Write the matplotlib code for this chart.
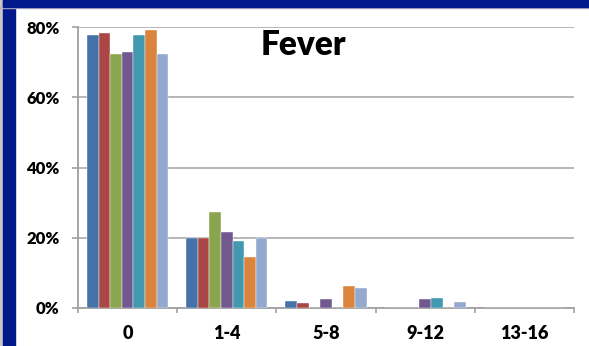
import matplotlib
matplotlib.use("Agg")
import matplotlib.pyplot as plt
import numpy as np
from matplotlib.patches import Rectangle

categories = ["0", "1-4", "5-8", "9-12", "13-16"]
series_colors = ["#4572A7", "#AA4643", "#89A54E", "#71588F", "#4198AF", "#DB843D", "#93A9CF"]
s1 = [77.8, 20.0, 2.0, 0.0, 0.0]
s2 = [78.3, 20.0, 1.5, 0.0, 0.0]
s3 = [72.3, 27.4, 0.0, 0.0, 0.0]
s4 = [72.8, 21.5, 2.7, 2.7, 0.0]
s5 = [77.8, 19.2, 0.0, 2.9, 0.0]
s6 = [79.1, 14.5, 6.3, 0.0, 0.0]
s7 = [72.4, 20.0, 5.8, 1.6, 0.0]
series = [s1, s2, s3, s4, s5, s6, s7]
yticks = [0, 20, 40, 60, 80]
ytick_labels = ["0%", "20%", "40%", "60%", "80%"]
title = "Fever"

plt.rcParams['font.family'] = ['Lato', 'DejaVu Sans']

W, H = 589, 346
fig = plt.figure(figsize=(W / 100, H / 100), dpi=100)
fig.patch.set_facecolor("white")

# frame decorations
fig.patches.append(Rectangle((0, 0), 3 / W, 1, transform=fig.transFigure, color="#C8C8C8", zorder=0))
fig.patches.append(Rectangle((3 / W, 0), 12 / W, 1, transform=fig.transFigure, color="#00188A", zorder=1))
fig.patches.append(Rectangle((0, 1 - 8 / H), 1, 1 / H, transform=fig.transFigure, color="#B8B8C8", zorder=1))
fig.patches.append(Rectangle((3 / W, 1 - 7 / H), 1, 7 / H, transform=fig.transFigure, color="#00188A", zorder=2))

ax = fig.add_axes([78 / W, 1 - 308 / H, (574 - 78) / W, (308 - 27) / H])
ax.set_facecolor("white")

n = len(series)
x = np.arange(len(categories))
group_w = 0.82
bw = group_w / n
for i, (vals, c) in enumerate(zip(series, series_colors)):
    ax.bar(x - group_w / 2 + bw * (i + 0.5), vals, width=bw, color=c,
           edgecolor="white", linewidth=0.3, zorder=3)

ax.set_xlim(-0.5, len(categories) - 0.5)
ax.set_ylim(0, 80)
ax.set_yticks(yticks)
ax.set_yticklabels(ytick_labels, fontsize=12, fontweight="heavy")
ax.yaxis.grid(True, color="#B0B0B0", linewidth=1.3, zorder=0)
ax.set_axisbelow(True)

ax.set_xticks(x)
ax.set_xticklabels(categories, fontsize=13, fontweight="heavy")
ax.tick_params(axis="x", length=0, pad=12)
ax.set_xticks(np.arange(-0.5, len(categories)), minor=True)
ax.tick_params(axis="x", which="minor", length=3.6, color="#A0A0A0", width=1.2)
ax.tick_params(axis="y", length=4.3, color="#A0A0A0", width=1.2, pad=9)

for s in ["top", "right"]:
    ax.spines[s].set_visible(False)
for s in ["left", "bottom"]:
    ax.spines[s].set_color("#A0A0A0")
    ax.spines[s].set_linewidth(1.3)

fig.text(303 / W, 1 - 45 / H, title, fontsize=24, fontweight="heavy",
         ha="center", va="center", color="black")

fig.savefig("out.png", dpi=100, facecolor=fig.get_facecolor())
